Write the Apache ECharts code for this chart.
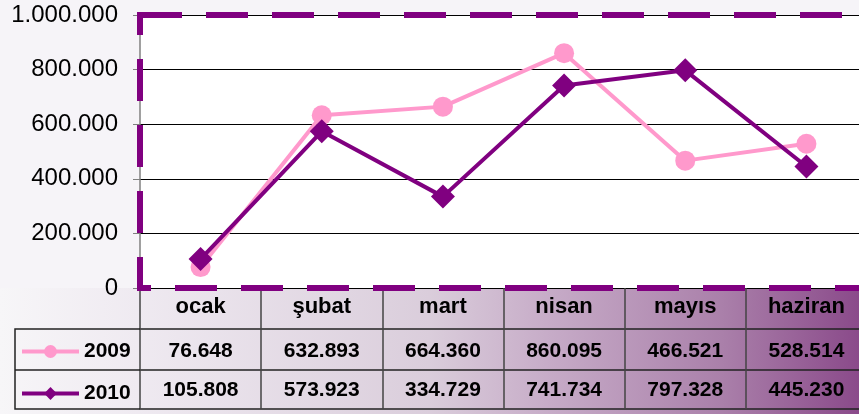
<!DOCTYPE html>
<html>
<head>
<meta charset="utf-8">
<script src="https://cdn.jsdelivr.net/npm/echarts@6/dist/echarts.min.js"></script>
<style>
  html, body { margin: 0; padding: 0; }
  #chart { width: 859px; height: 414px; }
</style>
</head>
<body>
<div id="chart"></div>
<script>
// aylar ve değerler
var months = ['ocak', 'şubat', 'mart', 'nisan', 'mayıs', 'haziran'];
var values2009 = [76648, 632893, 664360, 860095, 466521, 528514];
var values2010 = [105808, 573923, 334729, 741734, 797328, 445230];
var yMin = 0;
var yMax = 1000000;
var yStep = 200000;

var FONT = "'Liberation Sans', Arial, sans-serif";

// 1234567 -> 1.234.567
function fmt(n) {
  return String(n).replace(/\B(?=(\d{3})+(?!\d))/g, '.');
}

var chart = echarts.init(document.getElementById('chart'));

// grid ortak ölçüleri (sağ kenar pencerenin dışında kalıyor)
var plot = { left: 140, top: 15, width: 727, height: 273 };

// tablo satırı olarak kullanılan ek x eksenleri
function rowAxis(labels, offset, margin) {
  return {
    type: 'category',
    gridIndex: 0,
    position: 'bottom',
    offset: offset,
    data: labels,
    axisLine: { show: true, lineStyle: { color: '#222', width: 1.5 } },
    axisTick: { show: false },
    splitLine: { show: false },
    axisLabel: {
      show: labels.length > 0,
      interval: 0,
      margin: margin,
      verticalAlign: 'middle',
      color: '#000',
      fontFamily: FONT,
      fontWeight: 'bold',
      fontSize: 21
    }
  };
}

chart.setOption({
  animation: false,
  backgroundColor: '#f6f4f8',
  textStyle: { fontFamily: FONT },
  graphic: [
    {
      // tablo arka planı (sağa doğru mor)
      type: 'rect',
      z: -10,
      left: 0,
      bottom: 0,
      shape: { width: 859, height: 126 },
      style: {
        fill: new echarts.graphic.LinearGradient(0, 0, 1, 0, [
          { offset: 0, color: '#f7f6f8' },
          { offset: 0.16, color: '#efeaf1' },
          { offset: 0.5, color: '#dacddb' },
          { offset: 0.65, color: '#c5a9c6' },
          { offset: 0.84, color: '#aa80aa' },
          { offset: 1, color: '#8a4a8a' }
        ])
      }
    },
    {
      type: 'polyline',
      z: 5,
      shape: { points: [[140, 329], [15, 329], [15, 409], [140, 409]] },
      style: { stroke: '#222', lineWidth: 1.5, fill: null }
    },
    {
      type: 'line',
      z: 5,
      shape: { x1: 15, y1: 370, x2: 140, y2: 370 },
      style: { stroke: '#222', lineWidth: 1.5 }
    }
  ],
  legend: {
    orient: 'vertical',
    left: 20,
    top: 341,
    padding: 0,
    itemWidth: 57,
    itemHeight: 16,
    itemGap: 21,
    lineStyle: { width: 4 },
    textStyle: {
      color: '#000',
      fontFamily: FONT,
      fontWeight: 'bold',
      fontSize: 21,
      lineHeight: 20
    },
    data: ['2009', '2010']
  },
  grid: [
    {
      left: plot.left, top: plot.top, width: plot.width, height: plot.height,
      outerBoundsMode: 'none',
      show: true,
      backgroundColor: '#ffffff',
      borderWidth: 0
    },
    {
      // kesikli mor çerçeve, eksenlerin üstünde
      left: plot.left, top: plot.top, width: plot.width, height: plot.height,
      outerBoundsMode: 'none',
      show: true,
      z: 10,
      backgroundColor: 'transparent',
      borderColor: '#800080',
      borderWidth: 6,
      borderType: [42, 24]
    }
  ],
  xAxis: [
    {
      type: 'category',
      gridIndex: 0,
      position: 'bottom',
      data: months,
      axisLine: { show: true, lineStyle: { color: '#000', width: 1 } },
      axisTick: {
        show: true,
        interval: 0,
        length: 121,
        lineStyle: { color: '#444', width: 1.5 }
      },
      splitLine: { show: false },
      axisLabel: {
        interval: 0,
        margin: 19,
        verticalAlign: 'middle',
        color: '#000',
        fontFamily: FONT,
        fontWeight: 'bold',
        fontSize: 22
      }
    },
    rowAxis(values2009.map(fmt), 41, 22),
    rowAxis(values2010.map(fmt), 82, 20),
    rowAxis([], 121, 0),
    { type: 'category', gridIndex: 1, show: false, data: months }
  ],
  yAxis: [
    {
      type: 'value',
      gridIndex: 0,
      min: yMin,
      max: yMax,
      interval: yStep,
      axisLine: { show: true, lineStyle: { color: '#808080', width: 1.5 } },
      axisTick: { show: true, length: 7, lineStyle: { color: '#808080' } },
      splitLine: { show: true, lineStyle: { color: '#000', width: 1 } },
      axisLabel: {
        margin: 22,
        color: '#000',
        fontFamily: FONT,
        fontSize: 24,
        formatter: function (v) { return fmt(v); }
      }
    },
    { type: 'value', gridIndex: 1, show: false, min: yMin, max: yMax }
  ],
  series: [
    {
      name: '2009',
      type: 'line',
      xAxisIndex: 0,
      yAxisIndex: 0,
      data: values2009,
      symbol: 'circle',
      symbolSize: 20,
      itemStyle: { color: '#ff99cc' },
      lineStyle: { color: '#ff99cc', width: 4 }
    },
    {
      name: '2010',
      type: 'line',
      xAxisIndex: 0,
      yAxisIndex: 0,
      data: values2010,
      symbol: 'diamond',
      symbolSize: 24,
      itemStyle: { color: '#800080' },
      lineStyle: { color: '#800080', width: 4 }
    }
  ]
});
</script>
</body>
</html>
